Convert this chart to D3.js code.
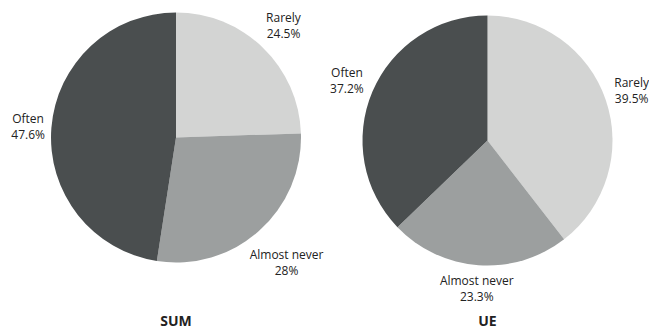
<!DOCTYPE html>
<html>
<head>
<meta charset="utf-8">
<script src="https://cdn.jsdelivr.net/npm/d3@7/dist/d3.min.js"></script>
<style>
  html, body { margin: 0; padding: 0; background: #fff; }
  svg { display: block; }
  text { font-family: "Open Sans", "Noto Sans", sans-serif; fill: #222; }
</style>
</head>
<body>
<svg id="chart" width="649" height="329"></svg>
<script>
const categories = ["Rarely", "Almost never", "Often"];
const colors = ["#d3d4d3", "#9c9f9f", "#4a4e4f"];
const groups = ["SUM", "UE"];
const sumValues = [24.5, 28, 47.6];
const ueValues = [39.5, 23.3, 37.2];
const valueLabels = [["24.5%", "28%", "47.6%"], ["39.5%", "23.3%", "37.2%"]];

const svg = d3.select("#chart");
const W = 649, H = 329;
const radius = 125;
const centers = [[176, 137.5], [487.5, 140.5]];
const seriesList = [sumValues, ueValues];

const pie = d3.pie().sort(null).value(d => d.v);
const arc = d3.arc().innerRadius(0).outerRadius(radius);

seriesList.forEach((vals, gi) => {
  const data = vals.map((v, i) => ({ v, name: categories[i], label: valueLabels[gi][i], color: colors[i] }));
  const g = svg.append("g").attr("transform", `translate(${centers[gi][0]},${centers[gi][1]})`);
  const arcs = pie(data);
  g.selectAll("path").data(arcs).enter().append("path")
    .attr("d", arc)
    .attr("fill", d => d.data.color);

  arcs.forEach(a => {
    const lg = g.append("g");
    const t = lg.append("text").attr("text-anchor", "middle").style("font-size", "12px");
    t.append("tspan").attr("x", 0).attr("y", 0).text(a.data.name);
    t.append("tspan").attr("x", 0).attr("y", 16).text(a.data.label);
    const bb = t.node().getBBox();
    const cx = bb.x + bb.width / 2, cy = bb.y + bb.height / 2;
    const w = bb.width, h = bb.height;
    const mid = (a.startAngle + a.endAngle) / 2;
    const ux = Math.sin(mid), uy = -Math.cos(mid);
    const target = radius + 6;
    let lo = 0, hi = 400;
    for (let k = 0; k < 60; k++) {
      const m = (lo + hi) / 2;
      const px = m * ux, py = m * uy;
      const dx = Math.max(0, Math.abs(px) - w / 2), dy = Math.max(0, Math.abs(py) - h / 2);
      const dist = Math.hypot(dx, dy);
      if (dist < target) lo = m; else hi = m;
    }
    const px = lo * ux, py = lo * uy;
    lg.attr("transform", `translate(${px - cx},${py - cy})`);
  });

  svg.append("text")
    .attr("x", centers[gi][0])
    .attr("y", 326)
    .attr("text-anchor", "middle")
    .style("font-size", "14px")
    .style("font-weight", "bold")
    .text(groups[gi]);
});
</script>
</body>
</html>
